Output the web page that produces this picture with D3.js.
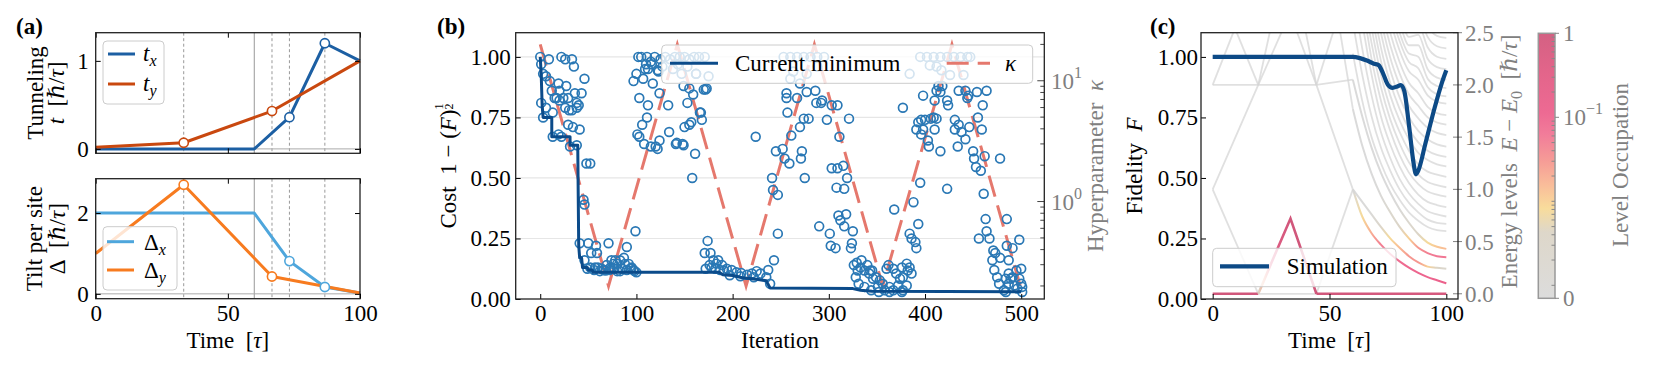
<!DOCTYPE html>
<html><head><meta charset="utf-8">
<script src="https://cdn.jsdelivr.net/npm/d3@7"></script>
<style>body{margin:0;background:#fff}svg{display:block}</style>
</head><body><svg id="c" width="1661" height="380"></svg>
<script>
// ---------------- DATA ----------------
// Panel (a)
const txTime = [0, 60, 73.3, 86.7, 100];
const txVal  = [0, 0, 0.36, 1.2, 1.0];
const tyTime = [0, 33.3, 66.7, 100];
const tyVal  = [0.02, 0.07, 0.43, 1.0];
const dxTime = [0, 60, 73.3, 86.7, 100];
const dxVal  = [2, 2, 0.81, 0.17, 0.02];
const dyTime = [0, 33.3, 66.7, 100];
const dyVal  = [1.0, 2.7, 0.43, 0.02];
const txMarks = [73.3, 86.7], tyMarks = [33.3, 66.7], dxMarks = [73.3, 86.7], dyMarks = [33.3, 66.7];
const aSolidTimes = [60];
const aDashedTimes = [33.3, 66.7, 73.3, 86.7];
const aTicksX = [0, 50, 100];
const aTicksTop = [0, 1];
const aTicksBottom = [0, 2];

// Panel (b)
const costSamples = [
[0,1.00],[1,0.97],[9,0.99],[3,0.93],[6,0.92],[10,0.90],[12,0.86],[17,0.83],[15,0.83],[1,0.81],[6,0.79],[13,0.77],[3,0.75],
[22,1.00],[26,0.99],[33,0.99],[35,0.96],[46,0.91],[19,0.89],[27,0.88],[20,0.86],[36,0.85],[43,0.85],[24,0.83],[29,0.83],[20,0.82],
[38,0.81],[40,0.80],[26,0.79],[33,0.78],[30,0.78],[38,0.79],[13,0.67],[19,0.68],[22,0.67],[29,0.72],[34,0.71],[41,0.70],[31,0.63],
[38,0.635],[48,0.56],[52,0.56],[45,0.41],[46,0.39],[41,0.23],[50,0.23],[58,0.22],[46,0.16],[53,0.19],[59,0.19],[52,0.13],[57,0.13],
[49,0.125],[60,0.13],[64,0.125],[71,0.23],[69,0.14],[73,0.13],[74,0.16],[76,0.145],[78,0.16],[80,0.145],[83,0.16],[87,0.17],[88,0.145],
[90,0.215],[92,0.145],[95,0.13],[97,0.12],[99,0.28],[94,0.125],[66,0.12],[62,0.115],[80,0.115],[85,0.125],[56,0.12],[68,0.118],[72,0.12],
[77,0.125],[83,0.115],[90,0.12],[98,0.115],[100,0.11],
[97,0.90],[100,0.93],[102,1.0],[107,0.91],[103,0.83],[105,1.0],[109,0.95],[111,1.0],[110,0.97],[115,0.98],[112,0.95],[117,0.89],[119,1.0],
[116,0.97],[122,0.945],[125,0.99],[123,0.94],[127,0.96],[101,0.68],[103,0.67],[108,0.64],[106,0.72],[111,0.75],[112,0.80],[115,0.63],
[120,0.63],[124,0.655],[122,0.62],[133,0.80],[134,0.69],[142,0.645],[149,0.635],[150,0.71],[153,0.81],[157,0.73],[159,0.845],[161,0.60],
[158,0.50],[167,0.77],[149,0.88],[172,0.865],[170,0.865],[168,0.74],[166,0.77],[124,0.85],[155,0.72],[141,0.64],[148,0.64],
[130,1.0],[135,0.99],[140,1.0],[145,1.0],[150,1.0],[155,0.99],[160,1.0],[165,1.0],[171,1.0],[138,0.95],[147,0.93],[162,0.93],[175,0.92],
[143,0.97],[153,0.96],[155,0.87],[162,0.93],[173,0.87],
[174,0.24],[171,0.19],[177,0.19],[180,0.16],[185,0.16],[172,0.125],[189,0.14],[194,0.125],[199,0.12],[204,0.11],[209,0.107],[215,0.10],
[220,0.105],[225,0.115],[229,0.105],[237,0.12],[235,0.09],[243,0.16],[247,0.27],[183,0.146],[191,0.118],[197,0.098],[208,0.094],[222,0.09],
[239,0.063],[224,0.67],[176,0.14],[178,0.13],[182,0.125],[187,0.12],
[241,0.50],[242,0.45],[247,0.43],[245,0.61],[252,0.62],[254,0.58],[259,0.56],[257,0.77],[256,0.85],[256,0.83],[267,0.83],[261,0.675],
[270,0.71],[274,0.745],[279,0.745],[277,0.855],[286,0.86],[287,0.81],[293,0.82],[292,0.81],[298,0.74],[272,0.61],[271,0.58],[275,0.50],
[290,0.30],[301,0.27],[302,0.22],[307,0.21],[323,0.21],[324,0.23],[325,0.28],[303,0.54],[309,0.54],[315,0.55],[319,0.50],[308,0.46],
[316,0.455],[310,0.345],[318,0.35],[312,0.325],[316,0.30],[309,0.80],[303,0.80],[311,0.67],[321,0.745],
[253,1.0],[260,1.0],[267,1.0],[274,1.0],[281,1.0],[288,1.0],[295,1.0],[263,0.94],[270,0.89],[277,0.93],[260,0.91],[288,0.96],
[330,0.118],[333,0.13],[337,0.118],[342,0.105],[345,0.118],[349,0.09],[328,0.09],[331,0.063],[337,0.05],[344,0.036],[352,0.029],
[343,0.118],[346,0.084],[353,0.077],[351,0.05],[356,0.063],[360,0.125],[362,0.14],[363,0.05],[367,0.125],[370,0.105],[374,0.084],
[376,0.13],[377,0.09],[381,0.146],[382,0.118],[384,0.13],[386,0.105],[372,0.056],[363,0.029],[377,0.036],[381,0.056],[358,0.036],
[367,0.036],[376,0.029],[368,0.37],[377,0.79],[326,0.14],[329,0.15],[334,0.16],[340,0.14],
[388,0.40],[384,0.27],[386,0.25],[390,0.235],[391,0.21],[393,0.31],[395,0.48],[391,0.70],[393,0.73],[396,0.74],[396,0.68],[398,0.70],
[400,0.74],[403,0.655],[404,0.63],[406,0.745],[410,0.70],[409,0.75],[412,0.745],[416,0.61],[398,0.84],[410,0.82],[412,0.86],[414,0.88],
[418,0.88],[416,0.855],[423,0.82],[424,0.80],[423,0.455],[417,0.945],[426,0.925],
[395,1.0],[402,1.0],[409,1.0],[416,1.0],[423,1.0],[430,1.0],[437,1.0],[444,1.0],[447,1.0],[384,0.93],[405,0.965],[412,0.96],[440,0.925],
[435,0.86],[442,0.86],[445,0.84],[444,0.83],[454,0.855],[464,0.86],[460,0.80],[431,0.74],[435,0.72],[431,0.70],[434,0.63],[442,0.66],
[438,0.69],[446,0.71],[450,0.61],[455,0.75],[459,0.70],[451,0.58],[453,0.545],[458,0.53],[462,0.59],[478,0.58],[461,0.435],[463,0.33],
[464,0.28],[456,0.25],[467,0.25],[485,0.33],[471,0.20],[473,0.19],[478,0.17],[470,0.16],[485,0.22],[487,0.16],[491,0.21],[498,0.245],
[500,0.125],[495,0.118],[472,0.12],[475,0.09],[477,0.063],[484,0.084],[487,0.105],[491,0.09],[498,0.084],[500,0.063],[501,0.05],
[501,0.029],[487,0.063],[482,0.036],[484,0.029],[496,0.043],[489,0.084],[493,0.056]
];
const minIter = [0, 1, 2, 3, 12, 12, 31, 31, 39, 40, 41, 43, 44, 49, 50, 54, 55, 186, 190, 200, 210, 225, 235, 239, 325, 333, 345, 500];
const minCost = [1.0, 0.93, 0.8, 0.75, 0.75, 0.67, 0.67, 0.635, 0.635, 0.22, 0.17, 0.17, 0.13, 0.13, 0.12, 0.12, 0.11, 0.11, 0.1, 0.097, 0.088, 0.082, 0.075, 0.045, 0.043, 0.036, 0.032, 0.03];
const kappaIter = [0, 71, 142.5, 214, 285, 356, 428, 499];
const kappaVal  = [20, 0.2, 20, 0.2, 20, 0.2, 20, 0.2];
const bTicksX = [0, 100, 200, 300, 400, 500];
const bTicksY = [0, 0.25, 0.5, 0.75, 1.0];
const bGridY = [0.25, 0.5, 0.75, 1.0];
const kappaMajor = [1, 10];

// Panel (c)
const fidTime = [0, 60, 63, 66, 69, 71, 73, 75, 77, 79, 80.5, 82, 84, 86, 87, 88, 91, 95, 98, 100];
const fidVal  = [1.0, 1.0, 0.995, 0.985, 0.972, 0.966, 0.93, 0.885, 0.872, 0.878, 0.884, 0.86, 0.72, 0.56, 0.515, 0.53, 0.64, 0.79, 0.89, 0.945];
const levelsEarly = [
  {t:[0,19.5], e:[1.0,0]},
  {t:[19.5,44.4], e:[0,0]},
  {t:[44.4,60], e:[0,1.0]},
  {t:[0,19.5,24.4], e:[1.0,2.0,2.5]},
  {t:[39.9,44.4,60], e:[2.5,2.0,1.0]},
  {t:[0,8.8], e:[2.0,2.5]},
  {t:[10.3,19.5], e:[2.5,2.0]},
  {t:[0,44.4,60], e:[2.0,2.0,2.05]},
  {t:[19.5,29.4], e:[2.0,2.5]},
  {t:[36.2,44.4], e:[2.5,2.0]},
  {t:[44.4,51.5], e:[2.0,2.5]},
  {t:[54.6,60], e:[2.5,1.77]}
];
const occupiedEarly = [
  {t:[0,19.5], e:[0,0], o:[1,1]},
  {t:[19.5,22,25,33.3,44.4], e:[0,0.13,0.29,0.72,0], o:[0.004,0.02,0.3,1,1]},
  {t:[44.4,100], e:[0,0], o:[1,0.7]}
];
const lateTime = [60, 64, 68, 72, 76, 80, 84, 88, 92, 96, 100];
const lateColored = [
  {e:[1.0,0.74,0.58,0.47,0.38,0.31,0.25,0.20,0.16,0.13,0.10], o:[0,0.008,0.02,0.05,0.07,0.08,0.09,0.1,0.1,0.11,0.12]},
  {e:[1.0,0.88,0.76,0.64,0.53,0.44,0.36,0.30,0.26,0.25,0.24], o:[0,0,0.001,0.003,0.008,0.015,0.03,0.03,0.01,0.004,0.002]},
  {e:[1.77,1.42,1.15,0.94,0.78,0.64,0.53,0.44,0.39,0.36,0.35], o:[0,0,0,0.001,0.002,0.004,0.01,0.03,0.05,0.06,0.06]},
  {e:[2.05,1.70,1.40,1.16,0.97,0.81,0.68,0.57,0.49,0.45,0.43], o:[0,0,0,0,0,0.001,0.002,0.004,0.008,0.012,0.015]}
];
const lateGray = [
  [2.3,1.85,1.5,1.25,1.05,0.9,0.78,0.70,0.64,0.61,0.60],
  [2.6,2.1,1.7,1.4,1.18,1.0,0.87,0.78,0.71,0.68,0.67],
  [2.9,2.35,1.9,1.55,1.3,1.1,0.96,0.86,0.79,0.76,0.74],
  [3.2,2.6,2.1,1.7,1.43,1.22,1.06,0.95,0.88,0.85,0.83],
  [3.4,2.8,2.25,1.85,1.56,1.33,1.16,1.05,0.98,0.95,0.93],
  [3.6,2.95,2.4,1.98,1.67,1.44,1.26,1.14,1.07,1.04,1.02],
  [3.8,3.1,2.55,2.1,1.78,1.55,1.37,1.24,1.17,1.14,1.12],
  [4.0,3.3,2.7,2.23,1.9,1.66,1.48,1.35,1.28,1.24,1.22],
  [4.2,3.45,2.85,2.36,2.02,1.77,1.58,1.45,1.37,1.33,1.31],
  [4.4,3.6,3.0,2.5,2.14,1.88,1.69,1.56,1.48,1.43,1.41],
  [4.6,3.8,3.15,2.63,2.26,2.0,1.8,1.68,1.59,1.54,1.52],
  [4.8,3.95,3.3,2.76,2.38,2.11,1.91,1.80,1.69,1.64,1.62],
  [5,4.1,3.45,2.9,2.5,2.22,2.02,1.92,1.79,1.73,1.71],
  [5,4.3,3.6,3.0,2.62,2.33,2.13,2.05,1.90,1.84,1.82],
  [5,4.4,3.7,3.1,2.72,2.42,2.22,2.16,1.98,1.91,1.89],
  [5,4.5,3.8,3.2,2.82,2.5,2.3,2.27,2.06,1.99,1.97],
  [5,4.6,3.9,3.3,2.92,2.6,2.38,2.38,2.15,2.07,2.05],
  [5,4.7,4.0,3.4,3.0,2.7,2.46,2.48,2.25,2.17,2.15],
  [5,4.8,4.1,3.5,3.1,2.8,2.55,2.58,2.36,2.27,2.25],
  [5,5,4.2,3.6,3.2,2.9,2.65,2.68,2.46,2.37,2.35],
  [5,5,4.3,3.7,3.3,3.0,2.75,2.78,2.56,2.47,2.45]
];
const cTicksX = [0, 50, 100];
const cTicksF = [0, 0.25, 0.5, 0.75, 1.0];
const cTicksE = [0, 0.5, 1.0, 1.5, 2.0, 2.5];

// ---------------- DRAWING ----------------
const FONT = '"Liberation Serif","DejaVu Serif",serif';
const FS = 23;
const GRAY = '#808080';
const svg = d3.select('#c');
const defs = svg.append('defs');

function spine(x0, y0, x1, y1) {
  svg.append('rect').attr('x', x0).attr('y', y0).attr('width', x1 - x0).attr('height', y1 - y0)
    .attr('fill', 'none').attr('stroke', '#222').attr('stroke-width', 1.3);
}
function fmtAxis(g, color) {
  g.select('.domain').remove();
  g.attr('font-family', FONT).attr('font-size', FS);
  g.selectAll('text').attr('fill', color || '#000');
  g.selectAll('line').attr('stroke', color || '#000').attr('stroke-width', 1);
}
function label(x, y, rot, parts, color, anchor) {
  const t = svg.append('text').attr('transform', `translate(${x},${y}) rotate(${rot})`)
    .attr('text-anchor', anchor || 'middle').attr('font-family', FONT).attr('font-size', FS)
    .attr('fill', color || '#000');
  parts.forEach(p => {
    if (typeof p === 'string') { t.append('tspan').text(p); return; }
    const s = t.append('tspan').text(p.s);
    if (p.i) s.attr('font-style', 'italic');
    if (p.fs) s.attr('font-size', p.fs);
    if (p.dy) s.attr('dy', p.dy);
    if (p.dx) s.attr('dx', p.dx);
    if (p.b) s.attr('font-weight', 'bold');
  });
  return t;
}
const nb = '\u00a0';

// ---------- Panel (a) ----------
const ax = d3.scaleLinear().domain([0, 100]).range([95.7, 360]);
const ayT = d3.scaleLinear().domain([-0.05, 1.32]).range([153.3, 32.7]);
const ayB = d3.scaleLinear().domain([-0.12, 2.85]).range([298.7, 178.7]);

function panelA(y, top, bot, ticksY, series) {
  const g = svg.append('g');
  // reference lines
  aSolidTimes.forEach(t => g.append('line').attr('x1', ax(t)).attr('x2', ax(t)).attr('y1', top).attr('y2', bot)
    .attr('stroke', '#999').attr('stroke-width', 1));
  aDashedTimes.forEach(t => g.append('line').attr('x1', ax(t)).attr('x2', ax(t)).attr('y1', top).attr('y2', bot)
    .attr('stroke', '#999').attr('stroke-width', 1).attr('stroke-dasharray', '3,2.5'));
  g.append('line').attr('x1', ax(0)).attr('x2', ax(100)).attr('y1', y(0)).attr('y2', y(0))
    .attr('stroke', '#aaa').attr('stroke-width', 1);
  const line = d3.line().x(d => ax(d[0])).y(d => y(d[1]));
  series.forEach(s => {
    const pts = s.t.map((t, i) => [t, s.v[i]]);
    g.append('path').attr('d', line(pts)).attr('fill', 'none').attr('stroke', s.c).attr('stroke-width', 3)
      .attr('stroke-linejoin', 'round');
  });
  series.forEach(s => {
    s.m.forEach(mt => {
      const i = s.t.indexOf(mt);
      g.append('circle').attr('cx', ax(mt)).attr('cy', y(s.v[i])).attr('r', 4.6)
        .attr('fill', '#fff').attr('stroke', s.c).attr('stroke-width', 1.6);
    });
  });
  // axes
  fmtAxis(svg.append('g').attr('transform', `translate(${ax(0)},0)`)
    .call(d3.axisLeft(y).tickValues(ticksY).tickSize(-5).tickPadding(7).tickFormat(d3.format('d'))));
  fmtAxis(svg.append('g').attr('transform', `translate(${ax(100)},0)`)
    .call(d3.axisRight(y).tickValues(ticksY).tickSize(-5).tickFormat('')));
  fmtAxis(svg.append('g').attr('transform', `translate(0,${top})`)
    .call(d3.axisTop(ax).tickValues(aTicksX).tickSize(-5).tickFormat('')));
  spine(ax(0), top, ax(100), bot);
}
panelA(ayT, 32.7, 153.3, aTicksTop, [
  {t: txTime, v: txVal, m: txMarks, c: '#1c5fa3'},
  {t: tyTime, v: tyVal, m: tyMarks, c: '#c9480f'}
]);
fmtAxis(svg.append('g').attr('transform', `translate(0,153.3)`)
  .call(d3.axisBottom(ax).tickValues(aTicksX).tickSize(-5).tickFormat('')));
panelA(ayB, 178.7, 298.7, aTicksBottom, [
  {t: dxTime, v: dxVal, m: dxMarks, c: '#4ea6dc'},
  {t: dyTime, v: dyVal, m: dyMarks, c: '#f77b1f'}
]);
fmtAxis(svg.append('g').attr('transform', `translate(0,298.7)`)
  .call(d3.axisBottom(ax).tickValues(aTicksX).tickSize(-5).tickPadding(6).tickFormat(d3.format('d'))));

// legends (a)
function legendBox(x, y, w, h) {
  svg.append('rect').attr('x', x).attr('y', y).attr('width', w).attr('height', h).attr('rx', 4)
    .attr('fill', '#fff').attr('fill-opacity', 0.8).attr('stroke', '#ccc').attr('stroke-width', 1);
}
legendBox(103, 41, 61, 63);
[[54, '#1c5fa3', 'x'], [84, '#c9480f', 'y']].forEach(([yy, c, s]) => {
  svg.append('line').attr('x1', 108).attr('x2', 135).attr('y1', yy).attr('y2', yy).attr('stroke', c).attr('stroke-width', 3);
  label(143, yy + 7, 0, [{s: 't', i: 1}, {s: s, i: 1, fs: 16, dy: 5}], '#000', 'start');
});
legendBox(103, 226.7, 74, 63.3);
[[241.7, '#4ea6dc', 'x'], [270, '#f77b1f', 'y']].forEach(([yy, c, s]) => {
  svg.append('line').attr('x1', 107).attr('x2', 134).attr('y1', yy).attr('y2', yy).attr('stroke', c).attr('stroke-width', 3);
  label(144, yy + 8, 0, ['Δ', {s: s, i: 1, fs: 16, dy: 5}], '#000', 'start');
});

label(43, 93, -90, ['Tunneling']);
label(64, 93, -90, [{s: 't', i: 1}, nb + nb + '[ℏ/', {s: 'τ', i: 1}, ']']);
label(42, 238.7, -90, ['Tilt per site']);
label(65, 238.7, -90, ['Δ' + nb + nb + '[ℏ/', {s: 'τ', i: 1}, ']']);
label(227.8, 348, 0, ['Time' + nb + nb + '[', {s: 'τ', i: 1}, ']']);
label(16, 34, 0, [{s: '(a)', b: 1}], '#000', 'start');

// ---------- Panel (b) ----------
const bx = d3.scaleLinear().domain([-25.5, 524]).range([515.7, 1044.3]);
const by = d3.scaleLinear().domain([0, 1.1]).range([299, 32.7]);
const bk = d3.scaleLog().domain([0.156, 25]).range([299, 32.7]);
defs.append('clipPath').attr('id', 'clipB').append('rect').attr('x', 515.7).attr('y', 32.7).attr('width', 528.6).attr('height', 266.3);
const gB = svg.append('g').attr('clip-path', 'url(#clipB)');
bGridY.forEach(v => gB.append('line').attr('x1', 515.7).attr('x2', 1044.3).attr('y1', by(v)).attr('y2', by(v))
  .attr('stroke', '#e6e6e6').attr('stroke-width', 1.2));
gB.append('path').attr('d', d3.line().x((d, i) => bx(d)).y((d, i) => bk(kappaVal[i]))(kappaIter))
  .attr('fill', 'none').attr('stroke', '#e5786d').attr('stroke-width', 3).attr('stroke-dasharray', '22,9');
gB.selectAll('circle.s').data(costSamples).enter().append('circle')
  .attr('cx', d => bx(d[0])).attr('cy', d => by(d[1])).attr('r', 4.4)
  .attr('fill', 'none').attr('stroke', '#2a78b5').attr('stroke-width', 1.7);
gB.append('path').attr('d', d3.line().x(d => bx(d)).y((d, i) => by(minCost[i]))(minIter))
  .attr('fill', 'none').attr('stroke', '#0b4b8a').attr('stroke-width', 3).attr('stroke-linejoin', 'round');

fmtAxis(svg.append('g').attr('transform', `translate(515.7,0)`)
  .call(d3.axisLeft(by).tickValues(bTicksY).tickSize(-5).tickPadding(5).tickFormat(d3.format('.2f'))));
fmtAxis(svg.append('g').attr('transform', `translate(0,299)`)
  .call(d3.axisBottom(bx).tickValues(bTicksX).tickSize(-5).tickPadding(6).tickFormat(d3.format('d'))));
// right log axis
const kMinor = [];
[0.1, 1, 10].forEach(dec => { for (let m = 1; m <= 9; m++) { const v = dec * m; if (v >= 0.156 && v <= 25 && m !== 1) kMinor.push(v); } });
kMinor.forEach(v => svg.append('line').attr('x1', 1044.3).attr('x2', 1040.3).attr('y1', bk(v)).attr('y2', bk(v)).attr('stroke', '#444'));
kappaMajor.forEach(v => {
  svg.append('line').attr('x1', 1044.3).attr('x2', 1037.3).attr('y1', bk(v)).attr('y2', bk(v)).attr('stroke', '#444');
  label(1051, bk(v) + 8, 0, ['10', {s: String(Math.round(Math.log10(v))), fs: 16, dy: -11}], GRAY, 'start');
});
spine(515.7, 32.7, 1044.3, 299);
// legend (b)
legendBox(661.7, 45, 371, 38.3);
svg.append('line').attr('x1', 670).attr('x2', 718).attr('y1', 63.3).attr('y2', 63.3).attr('stroke', '#0b4b8a').attr('stroke-width', 3);
label(735, 71.3, 0, ['Current minimum'], '#000', 'start');
svg.append('line').attr('x1', 946.7).attr('x2', 990).attr('y1', 63.3).attr('y2', 63.3).attr('stroke', '#e5786d')
  .attr('stroke-width', 3).attr('stroke-dasharray', '22,9');
label(1005, 71.3, 0, [{s: 'κ', i: 1}], '#000', 'start');

label(456, 166, -90, ['Cost' + nb + nb + '1' + nb + '−' + nb + '(', {s: 'F', i: 1}, ')', {s: '1', fs: 12, dy: -13}, {s: '2', fs: 12, dx: -6, dy: 10}]);
svg.append('line').attr('x1', 446).attr('x2', 446).attr('y1', 0).attr('y2', 0);
label(1103, 166, -90, ['Hyperparameter' + nb + nb, {s: 'κ', i: 1}], GRAY);
label(780, 348, 0, ['Iteration']);
label(437, 34, 0, [{s: '(b)', b: 1}], '#000', 'start');

// ---------- Panel (c) ----------
const cx = d3.scaleLinear().domain([-5, 105]).range([1201, 1458]);
const cy = d3.scaleLinear().domain([0, 1.1]).range([299, 32.7]);
const ce = d3.scaleLinear().domain([-0.05, 2.5]).range([299, 32.7]);
const pStops = [0, 0.25, 0.34, 0.43, 0.52, 0.62, 0.70, 0.85, 1];
const cStops = ['#d6d6d6', '#d8d0c0', '#f7d68a', '#f8b088', '#f48a84', '#ef6588', '#ea5080', '#de4a76', '#cc456d'];
const pCol = d3.scaleLinear().domain(pStops).range(cStops).interpolate(d3.interpolateRgb).clamp(true);
const occToP = v => v <= 0.0007 ? 0 : Math.max(0, Math.min(1, 1 + Math.log10(v) * 0.317));
const cmap = v => pCol(occToP(v));

defs.append('clipPath').attr('id', 'clipC').append('rect').attr('x', 1201).attr('y', 32.7).attr('width', 257).attr('height', 266.3);
const gC = svg.append('g').attr('clip-path', 'url(#clipC)');
const eLine = d3.line().x(d => cx(d[0])).y(d => ce(d[1]));
const eLineSmooth = d3.line().x(d => cx(d[0])).y(d => ce(d[1])).curve(d3.curveMonotoneX);
levelsEarly.forEach(l => {
  gC.append('path').attr('d', eLine(l.t.map((t, i) => [t, l.e[i]]))).attr('fill', 'none')
    .attr('stroke', cmap(0)).attr('stroke-opacity', 0.75).attr('stroke-width', 1.8);
});
lateGray.forEach(e => {
  gC.append('path').attr('d', eLineSmooth(lateTime.map((t, i) => [t, e[i]]))).attr('fill', 'none')
    .attr('stroke', cmap(0)).attr('stroke-opacity', 0.75).attr('stroke-width', 1.8);
});
let gid = 0;
function colored(ts, es, os, smooth, w) {
  const id = 'lg' + (gid++);
  const x1 = cx(ts[0]), x2 = cx(ts[ts.length - 1]);
  const lg = defs.append('linearGradient').attr('id', id).attr('gradientUnits', 'userSpaceOnUse')
    .attr('x1', x1).attr('x2', x2).attr('y1', 0).attr('y2', 0);
  ts.forEach((t, i) => lg.append('stop').attr('offset', (cx(t) - x1) / (x2 - x1)).attr('stop-color', cmap(os[i])));
  gC.append('path').attr('d', (smooth ? eLineSmooth : eLine)(ts.map((t, i) => [t, es[i]]))).attr('fill', 'none')
    .attr('stroke', `url(#${id})`).attr('stroke-width', w).attr('stroke-opacity', 0.9);
}
lateColored.forEach(l => colored(lateTime, l.e, l.o, true, 2));
occupiedEarly.forEach(l => colored(l.t, l.e, l.o, false, 2.6));
// fidelity
gC.append('path').attr('d', d3.line().x(d => cx(d[0])).y(d => cy(d[1])).curve(d3.curveMonotoneX)(fidTime.map((t, i) => [t, fidVal[i]])))
  .attr('fill', 'none').attr('stroke', '#0d4a86').attr('stroke-width', 4.2).attr('stroke-linejoin', 'round');

fmtAxis(svg.append('g').attr('transform', `translate(1201,0)`)
  .call(d3.axisLeft(cy).tickValues(cTicksF).tickSize(-5).tickPadding(3).tickFormat(d3.format('.2f'))));
fmtAxis(svg.append('g').attr('transform', `translate(0,299)`)
  .call(d3.axisBottom(cx).tickValues(cTicksX).tickSize(-5).tickPadding(6).tickFormat(d3.format('d'))));
cTicksE.forEach(v => {
  svg.append('line').attr('x1', 1453).attr('x2', 1462).attr('y1', ce(v)).attr('y2', ce(v)).attr('stroke', GRAY);
  label(1465, ce(v) + 8, 0, [d3.format('.1f')(v)], GRAY, 'start');
});
spine(1201, 32.7, 1458, 299);
legendBox(1212.7, 248.3, 183.3, 38.4);
svg.append('line').attr('x1', 1220).attr('x2', 1269).attr('y1', 266.3).attr('y2', 266.3).attr('stroke', '#0d4a86').attr('stroke-width', 4.2);
label(1286.7, 274.3, 0, ['Simulation'], '#000', 'start');

label(1142, 166, -90, ['Fidelity' + nb + nb, {s: 'F', i: 1}]);
label(1517, 161.5, -90, ['Energy levels' + nb + nb, {s: 'E', i: 1}, nb + '−' + nb, {s: 'E', i: 1}, {s: '0', fs: 16, dy: 5},
  {s: nb + nb + '[ℏ/', dy: -5}, {s: 'τ', i: 1}, ']'], GRAY);
label(1329.5, 348, 0, ['Time' + nb + nb + '[', {s: 'τ', i: 1}, ']']);
label(1150, 34, 0, [{s: '(c)', b: 1}], '#000', 'start');

// ---------- Colorbar ----------
const cbX = 1538.3, cbW = 16.7, cbTop = 33.3, cbBot = 298.3;
const cbg = defs.append('linearGradient').attr('id', 'cbar').attr('x1', 0).attr('x2', 0).attr('y1', 1).attr('y2', 0);
pStops.forEach((p, i) => cbg.append('stop').attr('offset', p).attr('stop-color', cStops[i]));
svg.append('rect').attr('x', cbX).attr('y', cbTop).attr('width', cbW).attr('height', cbBot - cbTop)
  .attr('fill', 'url(#cbar)').attr('fill-opacity', 0.85).attr('stroke', '#999').attr('stroke-width', 1.5);
const cbY = p => cbBot - p * (cbBot - cbTop);
const cbMinor = [];
[0.001, 0.01, 0.1].forEach(dec => { for (let m = 1; m <= 9; m++) { const v = dec * m; if (occToP(v) > 0 && !(dec === 0.1 && m === 1)) cbMinor.push(v); } });
cbMinor.forEach(v => svg.append('line').attr('x1', cbX + cbW).attr('x2', cbX + cbW - 3.5).attr('y1', cbY(occToP(v))).attr('y2', cbY(occToP(v))).attr('stroke', '#888'));
[[1, '1'], [0.1, null], [0, '0']].forEach(([v, s]) => {
  const yy = cbY(occToP(v));
  svg.append('line').attr('x1', cbX + cbW).attr('x2', cbX + cbW + 4).attr('y1', yy).attr('y2', yy).attr('stroke', '#888');
  if (s) label(1563, yy + 8, 0, [s], GRAY, 'start');
  else label(1563, yy + 8, 0, ['10', {s: '−1', fs: 16, dy: -11}], GRAY, 'start');
});
label(1628, 165, -90, ['Level Occupation'], GRAY);
</script>
</body></html>
